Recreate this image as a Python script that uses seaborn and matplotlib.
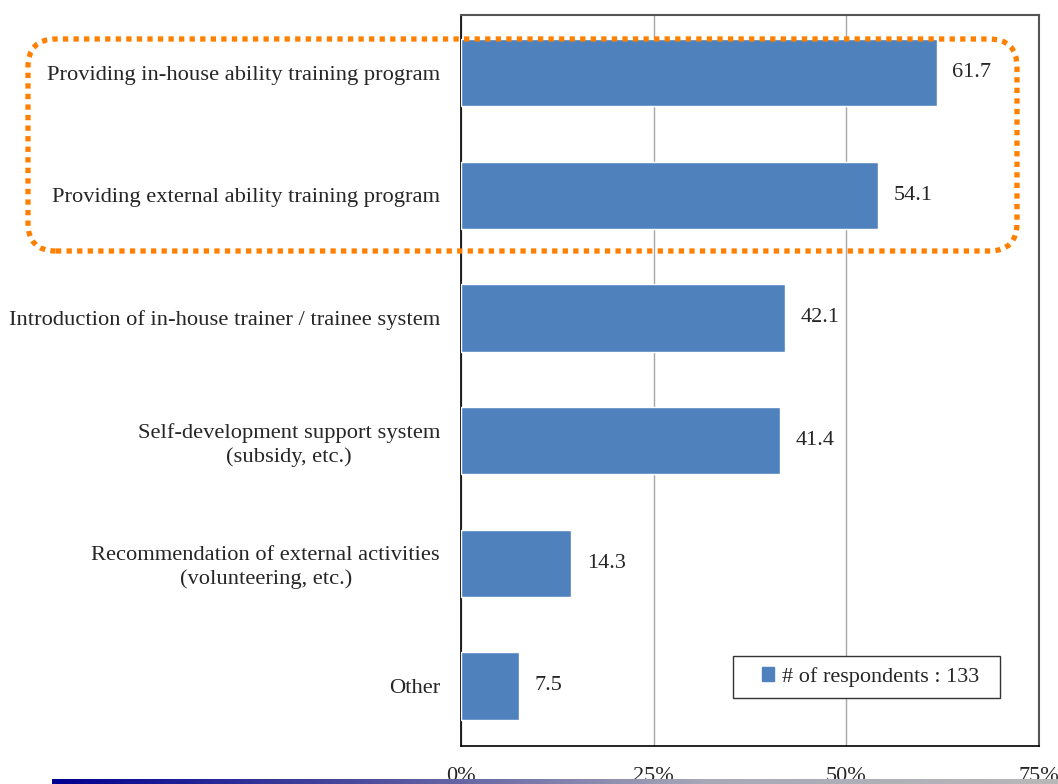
import matplotlib
matplotlib.use("Agg")
import matplotlib.pyplot as plt
import matplotlib.transforms as mtransforms
from matplotlib.patches import FancyBboxPatch, Patch, Rectangle
from matplotlib.colors import LinearSegmentedColormap
import numpy as np
import pandas as pd
import seaborn as sns

# data
categories = [
    "Providing in-house ability training program",
    "Providing external ability training program",
    "Introduction of in-house trainer / trainee system",
    "Self-development support system\n(subsidy, etc.)",
    "Recommendation of external activities\n(volunteering, etc.)",
    "Other",
]
shares = [61.7, 54.1, 42.1, 41.4, 14.3, 7.5]
x_ticks = [0, 25, 50, 75]
x_tick_labels = ["0%", "25%", "50%", "75%"]
legend_label = "# of respondents : 133"

bar_color = "#4F81BD"

sns.set_style("white")
plt.rcParams["font.family"] = ["Liberation Serif", "DejaVu Serif"]

df = pd.DataFrame({"item": categories, "share": shares})

W, H = 1058, 784
fig = plt.figure(figsize=(W / 100, H / 100), dpi=100)
ax = fig.add_axes([461 / W, 38 / H, 578 / W, 731 / H])

sns.barplot(data=df, y="item", x="share", orient="h", color=bar_color,
            width=0.55, saturation=1, ax=ax, zorder=3)

ax.set_xlim(0, 75)
ax.set_ylim(5.49, -0.47)
ax.set_xticks(x_ticks)
ax.set_xticklabels(x_tick_labels, fontsize=16)
ax.tick_params(axis="x", length=0, pad=15)
ax.tick_params(axis="y", length=0, pad=15, labelsize=16.2)
for lab in ax.get_yticklabels():
    lab.set_multialignment("center")
    lab.set_linespacing(1.25)
ax.set_yticks(np.arange(len(categories) - 1) + 0.5, minor=True)
ax.tick_params(axis="y", which="minor", direction="in", length=6, color="#555555")
ax.set_xlabel("")
ax.set_ylabel("")

ax.grid(axis="x", color="#a6a6a6", linewidth=1, zorder=0)
ax.grid(axis="y", visible=False)
for side in ["top", "right"]:
    ax.spines[side].set_color("#555555")
    ax.spines[side].set_linewidth(1.5)
ax.spines["left"].set_color("black")
ax.spines["bottom"].set_color("black")
ax.spines["left"].set_linewidth(1.2)
ax.spines["bottom"].set_linewidth(1.2)

for i, v in enumerate(shares):
    ax.text(v + 2.0, i, f"{v:.1f}", va="center", ha="left", fontsize=16)

# legend: frame drawn as a pixel rectangle, entry placed inside it
frame = Rectangle((733, H - 698), 267, 42, transform=mtransforms.IdentityTransform(),
                  fill=True, facecolor="white", edgecolor="#333333", linewidth=1.0,
                  zorder=6)
fig.patches.append(frame)
leg = fig.legend(handles=[Patch(color=bar_color, label=legend_label)],
                 loc="center left", bbox_to_anchor=(762 / W, (H - 677) / H),
                 frameon=False, fontsize=16, handlelength=0.55, handleheight=0.55,
                 handletextpad=0.35, borderpad=0, borderaxespad=0)
leg.set_zorder(8)

# orange dotted highlight box (pixel coordinates)
box = FancyBboxPatch((28, H - 251), 989, 212,
                     boxstyle="round,pad=0,rounding_size=28",
                     transform=mtransforms.IdentityTransform(),
                     fill=False, edgecolor="#FF8000", linewidth=3.8,
                     linestyle=(0, (1, 1.0)), zorder=10)
fig.patches.append(box)

# gradient strip along the bottom
gax = fig.add_axes([52 / W, 0, 1 - 52 / W, 5 / H], zorder=5)
cmap = LinearSegmentedColormap.from_list(
    "strip", [(0, "#000090"), (0.3, "#4a4a9c"), (0.65, "#a8a8b8"), (1, "#b8b8b8")])
gax.imshow(np.linspace(0, 1, 512)[None, :], aspect="auto", cmap=cmap)
gax.axis("off")

fig.savefig("out.png", dpi=100)
